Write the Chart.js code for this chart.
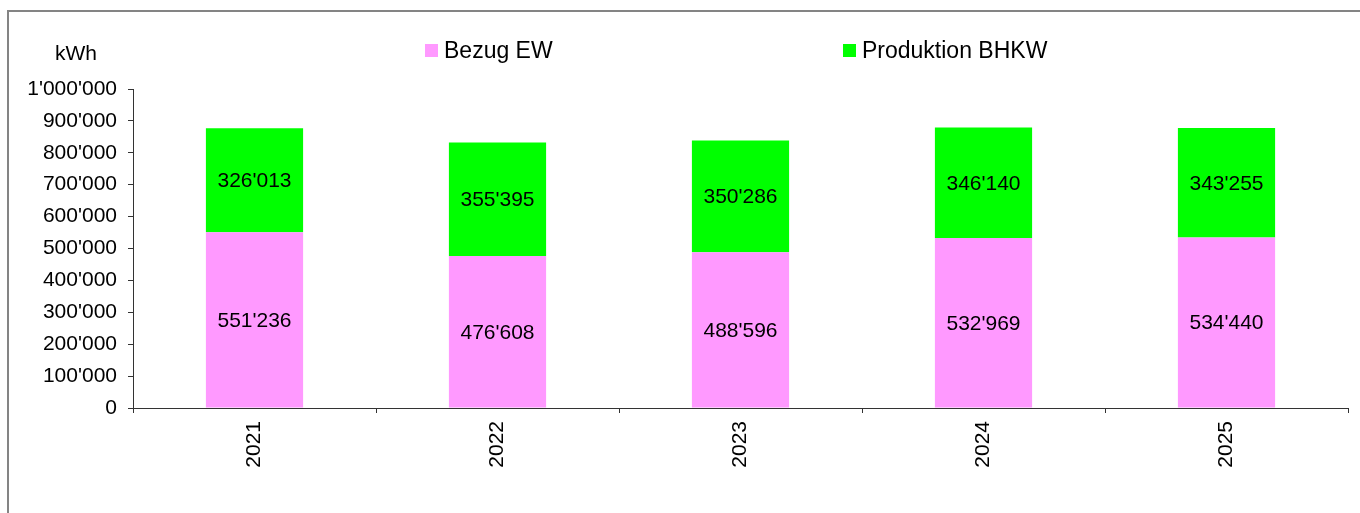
<!DOCTYPE html>
<html>
<head>
<meta charset="utf-8">
<script src="https://cdn.jsdelivr.net/npm/chart.js@4.4.0/dist/chart.umd.min.js"></script>
<style>
  body { margin: 0; width: 1360px; height: 513px; overflow: hidden; background: #fff; position: relative;
         font-family: "Liberation Sans", Arial, sans-serif; color: #000; }
  #frame { position: absolute; left: 7px; top: 10px; width: 1400px; height: 600px; border: 2px solid #848484; }
  #chart { position: absolute; left: 0; top: 0; }
  .unit { position: absolute; left: 55px; top: 41px; font-size: 21px; }
  .leg { position: absolute; top: 37px; font-size: 23px; white-space: nowrap; }
  .leg span.box { display: inline-block; width: 13px; height: 13px; margin-right: 6px; vertical-align: 1px; }
</style>
</head>
<body>
<div id="frame"></div>
<canvas id="chart" width="1360" height="513"></canvas>
<div class="unit">kWh</div>
<div id="legend"></div>
<script>
 // Daten
 const years = ['2021', '2022', '2023', '2024', '2025'];
 const seriesNames = ['Bezug EW', 'Produktion BHKW'];
 const bezugEW = [551236, 476608, 488596, 532969, 534440];
 const produktionBHKW = [326013, 355395, 350286, 346140, 343255];
 const colors = ['#ff99ff', '#00ff00'];
 const legendLeft = [425, 843];

 const fmt = v => String(v).replace(/\B(?=(\d{3})+(?!\d))/g, "'");

 // Legende als HTML
 let legHtml = '';
 seriesNames.forEach((name, i) => {
     legHtml += `<div class="leg" style="left:${legendLeft[i]}px"><span class="box" style="background:${colors[i]}"></span>${name}</div>`;
 });
 document.getElementById('legend').innerHTML = legHtml;

 // Werte in die Balken schreiben
 const valueLabels = {
     id: 'valueLabels',
     afterDatasetsDraw(chart) {
         const ctx = chart.ctx;
         ctx.save();
         ctx.font = '21px "Liberation Sans", Arial, sans-serif';
         ctx.fillStyle = '#000';
         ctx.textAlign = 'center';
         ctx.textBaseline = 'middle';
         chart.data.datasets.forEach((ds, i) => {
             chart.getDatasetMeta(i).data.forEach((bar, j) => {
                 ctx.fillText(fmt(ds.data[j]), bar.x, (bar.y + bar.base) / 2 + 1);
             });
         });
         ctx.restore();
     }
 };

 const tickFont = { family: '"Liberation Sans", Arial, sans-serif', size: 21 };

 var ctx = document.getElementById('chart').getContext('2d');
 var chart = new Chart(ctx, {
     type: 'bar',
     data: {
         labels: years,
         datasets: [{
             label: seriesNames[0],
             data: bezugEW,
             backgroundColor: colors[0],
             barPercentage: 0.4,
             categoryPercentage: 1
         }, {
             label: seriesNames[1],
             data: produktionBHKW,
             backgroundColor: colors[1],
             barPercentage: 0.4,
             categoryPercentage: 1
         }]
     },
     options: {
         responsive: false,
         animation: false,
         layout: { padding: { left: 0, right: 12, top: 89, bottom: 0 } },
         plugins: {
             legend: { display: false },
             tooltip: { enabled: false }
         },
         scales: {
             x: {
                 stacked: true,
                 grid: { offset: true, drawOnChartArea: false, tickLength: 5, color: '#333' },
                 border: { color: '#333' },
                 ticks: { minRotation: 90, maxRotation: 90, padding: 8, color: '#000', font: tickFont },
                 afterFit: s => { s.height = 105; }
             },
             y: {
                 stacked: true,
                 min: 0,
                 max: 1000000,
                 grid: { drawOnChartArea: false, tickLength: 5, color: '#333' },
                 border: { color: '#333' },
                 ticks: { stepSize: 100000, padding: 11, color: '#000', font: tickFont, callback: v => fmt(v) },
                 afterFit: s => { s.width = 133; }
             }
         }
     },
     plugins: [valueLabels]
 });
</script>
</body>
</html>
